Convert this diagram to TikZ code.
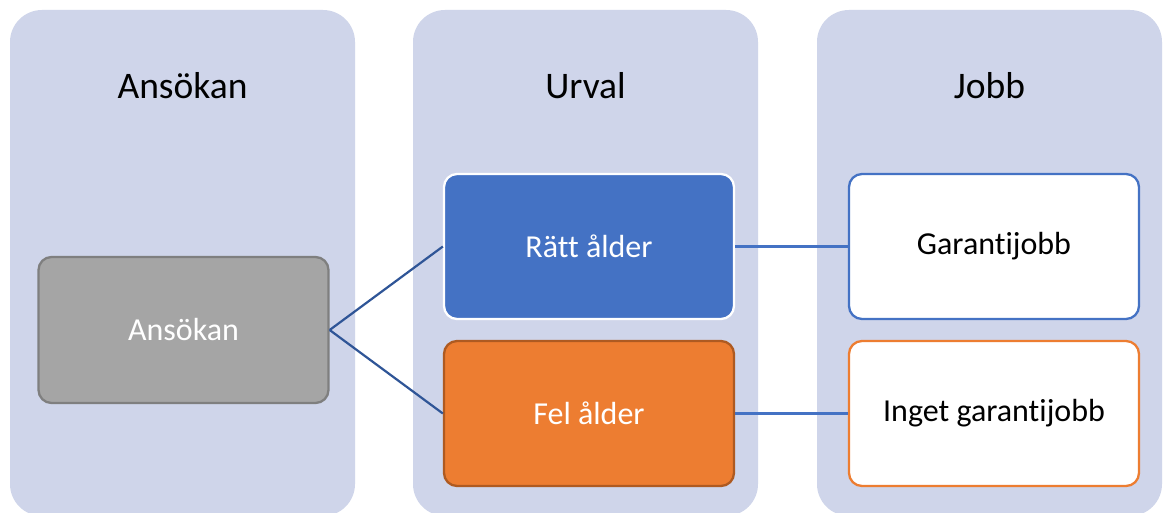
\documentclass[tikz,border=0pt]{standalone}
\usepackage{fontspec}
\setmainfont[Ligatures={NoCommon}]{Carlito}
\definecolor{colbg}{HTML}{CFD5EA}
\definecolor{grayfill}{HTML}{A5A5A5}
\definecolor{grayline}{HTML}{7F7F7F}
\definecolor{bluefill}{HTML}{4472C4}
\definecolor{orangefill}{HTML}{ED7D31}
\definecolor{orangeline}{HTML}{AE5A21}
\definecolor{darkblue}{HTML}{2F5597}
\begin{document}
\begin{tikzpicture}[x=1pt,y=-1pt,
  column/.style={fill=colbg,draw=none,rounded corners=32pt},
  box/.style={rounded corners=13pt,line width=2.3pt,inner sep=0pt},
  coltitle/.style={font=\fontsize{37.5}{44}\selectfont,text=black},
  boxtext/.style={font=\fontsize{32}{38}\selectfont},
  link/.style={line width=2.2pt}]
\useasboundingbox (0,0) rectangle (1168,513);
\fill[white] (0,0) rectangle (1168,513);
% columns
\path[column] (10,10) rectangle (355,516);
\path[column] (413,10) rectangle (758,516);
\path[column] (817,10) rectangle (1162,516);
\node[coltitle] (t1) at (182.5,86) {Ansökan};
\node[coltitle] (t2) at (585.5,86) {Urval};
\node[coltitle] (t3) at (989.5,86) {Jobb};
% boxes
\node[box,draw=grayline,fill=grayfill,minimum width=290pt,minimum height=146pt,text=white,boxtext] (ans) at (183.5,330) {Ansökan};
\node[box,draw=white,fill=bluefill,minimum width=290pt,minimum height=145pt,text=white,boxtext] (ratt) at (589,246.5) {Rätt ålder};
\node[box,draw=orangeline,fill=orangefill,minimum width=290pt,minimum height=145pt,text=white,boxtext] (fel) at (589,413.5) {Fel ålder};
\node[box,draw=bluefill,fill=white,minimum width=290pt,minimum height=145pt,text=black,boxtext] (gar) at (994,246.5) {Garantijobb};
\node[box,draw=orangefill,fill=white,minimum width=290pt,minimum height=145pt,text=black,boxtext] (ing) at (994,413.5) {Inget garantijobb};
% connectors
\draw[link,draw=darkblue] (ans.east) -- (ratt.west);
\draw[link,draw=darkblue] (ans.east) -- (fel.west);
\draw[link,draw=bluefill] (ratt.east) -- (gar.west);
\draw[link,draw=bluefill] (fel.east) -- (ing.west);
\end{tikzpicture}
\end{document}
